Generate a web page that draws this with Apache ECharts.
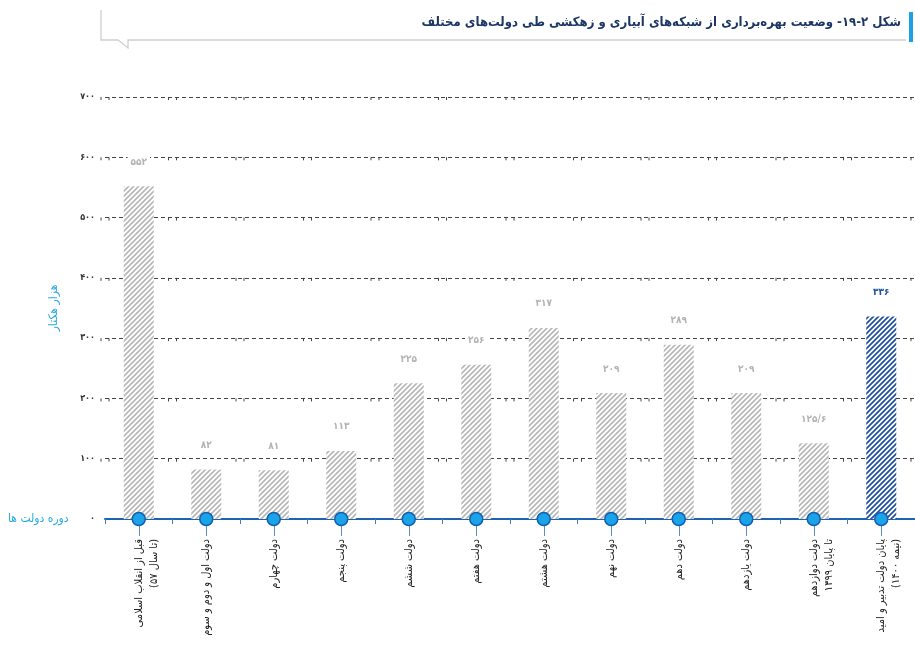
<!DOCTYPE html>
<html>
<head>
<meta charset="utf-8">
<script src="https://cdn.jsdelivr.net/npm/echarts@6/dist/echarts.min.js"></script>
<style>
html,body{margin:0;padding:0;background:#fff;}
#c{width:915px;height:651px;}
</style>
</head>
<body>
<div id="c"></div>
<script>
var titleText = 'شکل ۲-۱۹- وضعیت بهره‌برداری از شبکه‌های آبیاری و زهکشی طی دولت‌های مختلف';
var yAxisName = 'هزار هکتار';
var xAxisName = 'دوره دولت ها';
var categories = [
  'قبل از انقلاب اسلامی\n(تا سال ۵۷)',
  'دولت اول و دوم و سوم',
  'دولت چهارم',
  'دولت پنجم',
  'دولت ششم',
  'دولت هفتم',
  'دولت هشتم',
  'دولت نهم',
  'دولت دهم',
  'دولت یازدهم',
  'دولت دوازدهم\nتا پایان ۱۳۹۹',
  'پایان دولت تدبیر و امید\n(نیمه ۱۴۰۰)'
];
var values = [552, 82, 81, 113, 225, 256, 317, 209, 289, 209, 125.6, 336];
var highlightIndex = [11];
var yTicks = [0, 100, 200, 300, 400, 500, 600, 700];

var FA = '۰۱۲۳۴۵۶۷۸۹';
function toFa(n){
  return String(n).replace(/[0-9]/g, function(d){return FA[+d];}).replace('.', '/');
}
function hatch(line, bg){
  var s = 5;
  var c = document.createElement('canvas');
  c.width = s; c.height = s;
  var g = c.getContext('2d');
  g.fillStyle = bg; g.fillRect(0,0,s,s);
  g.strokeStyle = line; g.lineWidth = 1.7;
  g.beginPath();
  g.moveTo(-1,1); g.lineTo(1,-1);
  g.moveTo(0,s); g.lineTo(s,0);
  g.moveTo(s-1,s+1); g.lineTo(s+1,s-1);
  g.stroke();
  return {image:c, repeat:'repeat'};
}
var grayHatch = hatch('#b8b8b8', '#ffffff');
var blueHatch = hatch('#1f4f9f', '#ffffff');
var FONT = '"DejaVu Sans Condensed","DejaVu Sans",sans-serif';

var barData = values.map(function(v,i){
  var hi = highlightIndex.indexOf(i) >= 0;
  return {
    value: v,
    itemStyle: {color: hi ? blueHatch : grayHatch},
    label: {color: hi ? '#1f4f9f' : '#b3b3b3'}
  };
});
var dotData = categories.map(function(){return 0;});

// decorative small ticks on gridlines at category boundaries
var decoData = [];
for (var k = 1; k < yTicks.length; k++) {
  for (var b = 0; b <= categories.length; b++) decoData.push([b, yTicks[k]]);
}

var chart = echarts.init(document.getElementById('c'), null, {renderer:'canvas'});
chart.setOption({
  animation: false,
  textStyle: {fontFamily: FONT},
  grid: {left: 105, right: -6, top: 97, bottom: 132, containLabel: false},
  graphic: [
    {type:'polyline', shape:{points:[[101,10],[101,40],[118,40],[128,48],[128,40],[906,40]]}, style:{stroke:'#cfcfcf', lineWidth:1.3, fill:null}},
    {type:'rect', shape:{x:909, y:12, width:4, height:30}, style:{fill:'#1ea0e6'}},
    {type:'text', right: 14, top: 16, style:{text:titleText, fill:'#1c3766', font:'bold 13px ' + FONT, textAlign:'right'}},
    {type:'text', left: 8, top: 513, style:{text:xAxisName, fill:'#29abe2', font:'12px ' + FONT}}
  ],
  xAxis: [{
    type: 'category',
    data: categories,
    position: 'bottom',
    axisLine: {show:true, lineStyle:{color:'#1e62b0', width:2}},
    axisTick: {show:true, interval:0, length:5, lineStyle:{color:'#3d7fc4'}},
    axisLabel: {
      interval: 0, rotate: 90, margin: 20, fontSize: 11, color: '#222', lineHeight: 15,
      fontFamily: FONT,
      formatter: function(v){ return v.indexOf('\n') >= 0 ? '\n' + v : v; }
    },
    splitLine: {show:false}
  }, {
    type: 'category',
    data: categories,
    position: 'bottom',
    axisLine: {show:false},
    axisTick: {show:true, alignWithLabel:true, interval:0, length:17, lineStyle:{color:'#5a8fcf', width:1}},
    axisLabel: {show:false}
  }],
  yAxis: {
    type: 'value', min: 0, max: 700, interval: 100,
    name: yAxisName, nameLocation: 'middle', nameGap: 45, nameRotate: 90,
    nameTextStyle: {color:'#29abe2', fontSize: 12, fontFamily: FONT},
    axisLine: {show:false}, axisTick: {show:false},
    axisLabel: {color:'#333', fontSize: 9, fontWeight:'bold', margin: 10, formatter: function(v){return toFa(v);}},
    splitLine: {show:true, lineStyle:{color:'#444', type:[4,3], width:1}}
  },
  series: [{
    type: 'bar',
    data: barData,
    barWidth: 30,
    label: {show:true, position:'top', distance: 18, fontSize: 10, fontWeight:'bold', fontFamily: FONT,
      backgroundColor:'#ffffff', padding:[1,3],
      formatter: function(p){return toFa(p.value);}},
    z: 3
  }, {
    type: 'custom',
    data: decoData,
    silent: true,
    z: 1,
    renderItem: function(params, api){
      var p = api.coord([api.value(0), api.value(1)]);
      var band = api.size([1, 0])[0];
      var x = p[0] - band / 2;
      return {type:'group', children:[
        {type:'line', shape:{x1:x-4, y1:p[1], x2:x-4, y2:p[1]+3}, style:{stroke:'#444', lineWidth:1}},
        {type:'line', shape:{x1:x+4, y1:p[1], x2:x+4, y2:p[1]+3}, style:{stroke:'#444', lineWidth:1}}
      ]};
    }
  }, {
    type: 'scatter',
    data: dotData,
    symbol: 'circle',
    symbolSize: 13,
    itemStyle: {color:'#1aa3e8', borderColor:'#1560ae', borderWidth:1.5, opacity:1},
    clip: false,
    silent: true,
    z: 5
  }]
});
</script>
</body>
</html>
